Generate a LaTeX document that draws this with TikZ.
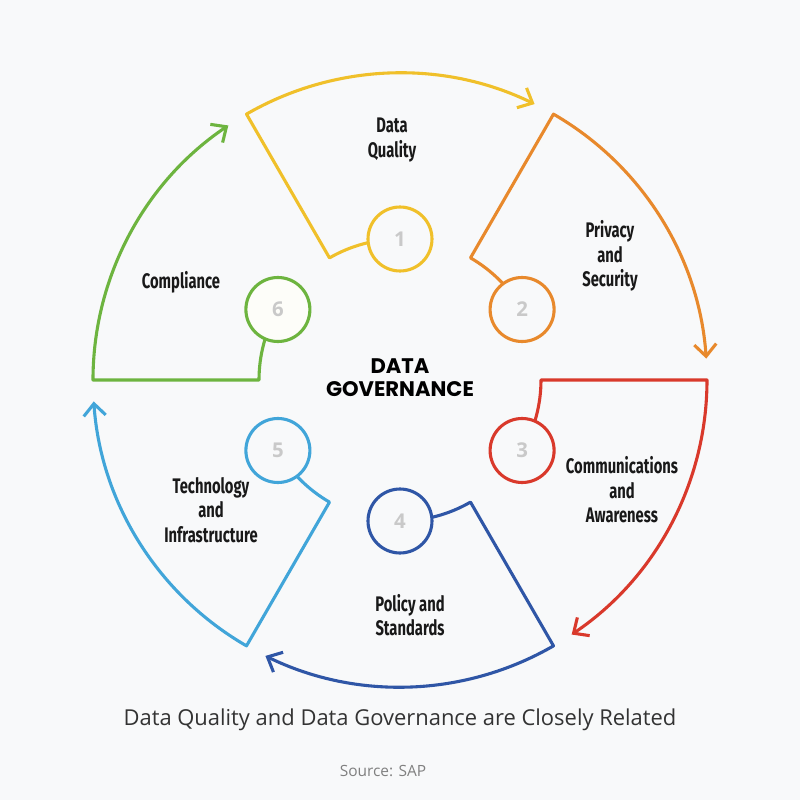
\documentclass[tikz,border=0pt]{standalone}
\usepackage{fontspec}
\setmainfont{Open Sans}
\newfontfamily\tagfont[FakeStretch=0.7]{Fira Sans}
\newfontfamily\hubfont{Poppins}
\usetikzlibrary{arrows.meta}
\definecolor{bgcol}{HTML}{F8F9FA}
\definecolor{qual}{HTML}{F0C02A}
\definecolor{priv}{HTML}{E8892C}
\definecolor{comm}{HTML}{D9392B}
\definecolor{poli}{HTML}{2F56A6}
\definecolor{tech}{HTML}{41A5D9}
\definecolor{comp}{HTML}{6DB43F}
\definecolor{numcol}{HTML}{C9C9C9}
\definecolor{capcol}{HTML}{333333}
\definecolor{pale}{HTML}{FDFDF9}
\tikzset{
  seg/.style={line width=2.2pt, line cap=round, line join=round,
    -{Straight Barb[length=3mm,width=5.5mm]}},
  numcirc/.style={circle, line width=2.2pt, minimum size=1.6cm, inner sep=0pt,
    text=numcol, font=\bfseries\fontsize{14.5}{16}\selectfont},
  tag/.style={align=center, text=black!90, font=\tagfont\bfseries\fontsize{15}{17.4}\selectfont}
}
\begin{document}
\begin{tikzpicture}
\fill[bgcol] (-10,-10.5) rectangle (10,9.5);
\useasboundingbox (-10,-10.5) rectangle (10,9.5);

% six segments round the hub
\foreach \k/\col/\fil in {1/qual/bgcol,2/priv/bgcol,3/comm/bgcol,4/poli/bgcol,5/tech/bgcol,6/comp/pale}{
\pgfmathsetmacro\a{180-60*\k}
\draw[seg,\col] (\a-30:3.525) arc[start angle=\a-30, end angle=\a, radius=3.525]
  -- (\a:7.675) arc[start angle=\a, end angle=\a-56, radius=7.675];
\node[numcirc,draw=\col,fill=\fil] (c\k) at (\a-30:3.525) {\k};
}

\node[tag] (t1) at (-0.2,6.0) {Data\\Quality};
\node[tag] (t2) at (5.25,3.1) {Privacy\\and\\Security};
\node[tag] (t3) at (5.55,-2.75) {Communications\\and\\Awareness};
\node[tag] (t4) at (0.25,-5.875) {Policy and\\Standards};
\node[tag] (t5) at (-4.725,-3.25) {Technology\\and\\Infrastructure};
\node[tag] (t6) at (-5.475,2.45) {Compliance};

\node[align=center, font=\hubfont\bfseries\fontsize{15}{16.4}\selectfont] (hub) at (0,0.05) {DATA\\GOVERNANCE};

\node[text=capcol, font=\fontsize{15.6}{18}\selectfont] (cap) at (0,-8.5) {Data Quality and Data Governance are Closely Related};
\node[text=gray, font=\fontsize{11}{13}\selectfont] (src) at (-0.425,-9.775) {Source: SAP};
\end{tikzpicture}
\end{document}
